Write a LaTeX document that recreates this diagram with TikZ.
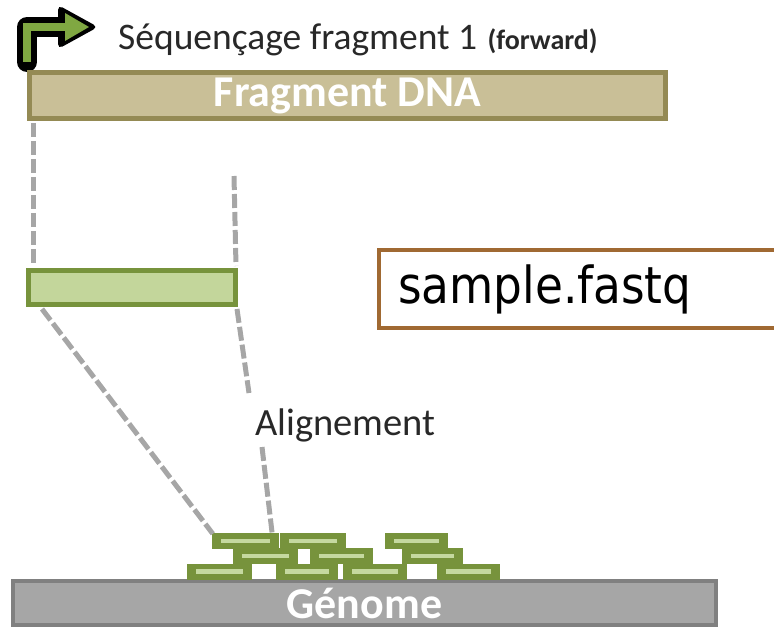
\documentclass[tikz,border=0pt]{standalone}
\usepackage{fontspec}
\setmainfont{Carlito}
\newfontfamily\tahomalike[FakeStretch=0.89]{DejaVu Sans}
\definecolor{tanfill}{RGB}{201,191,151}
\definecolor{tanedge}{RGB}{148,138,84}
\definecolor{lgreen}{RGB}{195,214,155}
\definecolor{dgreen}{RGB}{119,147,60}
\definecolor{readbar}{RGB}{197,217,160}
\definecolor{genfill}{RGB}{166,166,166}
\definecolor{genedge}{RGB}{128,128,128}
\definecolor{dashgray}{RGB}{166,166,166}
\definecolor{fqedge}{RGB}{160,105,50}
\definecolor{arrowgreen}{RGB}{128,168,66}
\definecolor{titlegray}{RGB}{40,40,40}
\tikzset{
  bar/.style={draw, line width=5pt, inner sep=0pt},
  connector/.style={draw=dashgray, line width=5pt, dash pattern=on 14pt off 4pt},
  read/.style={fill=dgreen, draw=none, inner sep=0pt, minimum height=16pt,
    path picture={\fill[readbar] ([xshift=9pt,yshift=-2.4pt]path picture bounding box.west) rectangle ([xshift=-9pt,yshift=2.4pt]path picture bounding box.east);}},
}
\begin{document}
\begin{tikzpicture}[x=1pt,y=-1pt]
\useasboundingbox (0,0) rectangle (774,628);
\clip (0,0) rectangle (774,628);
% arrow icon
\draw[line width=20pt, line join=round, line cap=round] (27,62) -- (27,27) -- (66,27);
\fill[rounded corners=5pt] (58,5) -- (98,27) -- (58,49) -- cycle;
\draw[arrowgreen, line width=8pt] (27,62) -- (27,27) -- (68,27);
\fill[arrowgreen] (65,13) -- (89,27) -- (65,41) -- cycle;
% title
\node[anchor=base west, inner sep=0pt, font=\fontsize{37.5}{42}\selectfont, text=titlegray] (title) at (118,50) {Séquençage fragment 1};
\node[anchor=base west, inner sep=0pt, font=\bfseries\fontsize{28}{32}\selectfont, text=titlegray] (fwd) at ([xshift=10pt]title.base east) {(forward)};
% fragment DNA
\node[bar, draw=tanedge, fill=tanfill, minimum width=636pt, minimum height=46pt,
  font=\bfseries\fontsize{44}{48}\selectfont, text=white] (frag) at (347.5,95.5) {Fragment DNA};
% small green read
\node[bar, draw=dgreen, fill=lgreen, minimum width=207pt, minimum height=34pt] (sread) at (132,287.5) {};
% sample.fastq
\node[draw=fqedge, line width=4pt, anchor=west, text width=380pt, align=left,
  inner xsep=19pt, minimum height=78pt, font=\tahomalike\fontsize{51}{56}\selectfont] (fq) at (377,289) {sample.fastq};
% alignement label
\node[anchor=base west, inner sep=0pt, font=\fontsize{38.5}{42}\selectfont, text=titlegray] (align) at (255,435) {Alignement};
% genome
\node[bar, line width=4pt, draw=genedge, fill=genfill, minimum width=703pt, minimum height=44pt,
  font=\bfseries\fontsize{44}{48}\selectfont, text=white] (gen) at (364.5,603) {Génome};
% reads
\node[read, minimum width=65pt] (r31) at (219.5,571.5) {};
\node[read, minimum width=62pt] (r32) at (307,571.5) {};
\node[read, minimum width=64pt] (r33) at (375,571.5) {};
\node[read, minimum width=63pt] (r34) at (468.5,571.5) {};
\node[read, minimum width=65pt] (r21) at (265.5,556) {};
\node[read, minimum width=63pt] (r22) at (341.5,556) {};
\node[read, minimum width=61pt] (r23) at (432.5,556) {};
\node[read, minimum width=67pt] (r11) at (245.5,541) {};
\node[read, minimum width=66pt] (r12) at (313,541) {};
\node[read, minimum width=63pt] (r13) at (416.5,541) {};
% connectors
\coordinate (topR) at (234,176);
\coordinate (midA) at (249,393);
\coordinate (midB) at (262,447);
\draw[connector] ([xshift=6pt,yshift=-2pt]frag.south west) -- ([xshift=7pt,yshift=2pt]sread.north west);
\draw[connector] (topR) -- ([xshift=-2pt,yshift=2pt]sread.north east);
\draw[connector] ([xshift=16pt,yshift=-2pt]sread.south west) -- ([xshift=1pt,yshift=-1pt]r11.north west);
\draw[connector] ([xshift=-1pt,yshift=-2pt]sread.south east) -- (midA);
\draw[connector] (midB) -- ([xshift=-7pt,yshift=-1pt]r11.north east);
\end{tikzpicture}
\end{document}
